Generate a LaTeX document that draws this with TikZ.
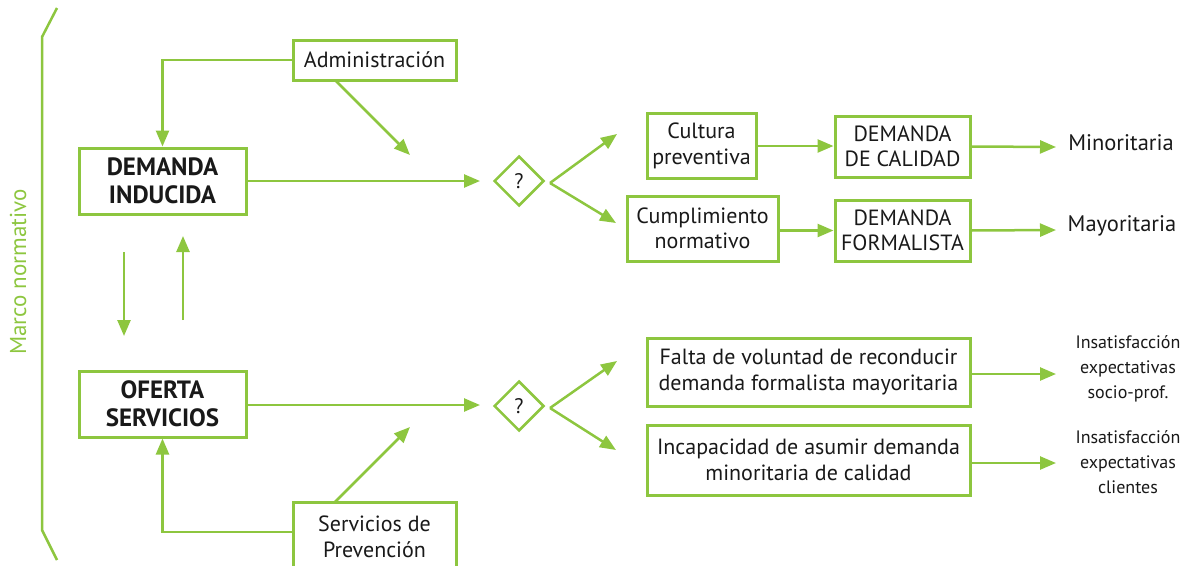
\documentclass[tikz,border=0pt]{standalone}
\usepackage{fontspec}
\setmainfont{PT Sans}
\usetikzlibrary{arrows.meta,shapes.geometric,calc}
\definecolor{gr}{RGB}{141,198,63}
\begin{document}
\begin{tikzpicture}[x=1pt,y=-1pt,
  box/.style={draw=gr, line width=3pt, inner sep=1pt, align=center, text=black!90,
    font=\fontsize{22}{25.5}\selectfont},
  bbox/.style={box, font=\fontsize{25}{28}\selectfont\bfseries},
  lbl/.style={align=center, text=black!90, font=\fontsize{22.5}{24}\selectfont},
  slbl/.style={align=center, text=black!90, font=\fontsize{18}{25}\selectfont},
  arr/.style={draw=gr, line width=2.5pt, -{Triangle[length=16pt,width=13pt]}},
  ln/.style={draw=gr, line width=2.5pt},
  qd/.style={diamond, draw=gr, line width=2.5pt, minimum width=50, minimum height=50, inner sep=0pt,
    text=black!90, font=\fontsize{21}{24}\selectfont}]
\path[use as bounding box] (0,0) rectangle (1188,565);
\clip (0,0) rectangle (1188,565);

% bracket
\coordinate (bt) at (57,8);
\coordinate (bb) at (57,560);
\draw[ln, line join=round] (bt) -- (42,37) -- (42,530) -- (bb);
\node[rotate=90, text=gr, font=\fontsize{23}{24}\selectfont] (mn) at (18,272) {Marco normativo};

% left boxes
\node[box, minimum width=163, minimum height=40] (adm) at (374.5,60) {Administración};
\node[bbox, minimum width=167, minimum height=66] (di) at (162.5,181) {DEMANDA\\INDUCIDA};
\node[bbox, minimum width=167, minimum height=66] (of) at (162.5,404) {OFERTA\\SERVICIOS};
\node[box, minimum width=163, minimum height=70] (sp) at (374.5,537) {Servicios de\\Prevención};

% diamonds
\node[qd] (q1) at (519,181) {?};
\node[qd] (q2) at (519,406) {?};

% upper right
\node[box, minimum width=109, minimum height=65] (cp) at (701.5,146) {Cultura\\preventiva};
\node[box, minimum width=151, minimum height=65] (cn) at (702.5,228.5) {Cumplimiento\\normativo};
\node[box, minimum width=135, minimum height=61] (dc) at (902.5,146.5) {DEMANDA\\DE CALIDAD};
\node[box, minimum width=135, minimum height=61] (df) at (902.5,230.5) {DEMANDA\\FORMALISTA};
\node[lbl] (mi) at (1121,143) {Minoritaria};
\node[lbl] (ma) at (1122,226) {Mayoritaria};

% lower right
\node[box, minimum width=323, minimum height=68] (fv) at (808.5,372) {Falta de voluntad de reconducir\\demanda formalista mayoritaria};
\node[box, minimum width=323, minimum height=70] (ic) at (808.5,460) {Incapacidad de asumir demanda\\minoritaria de calidad};
\node[slbl] (i1) at (1128,369) {Insatisfacción\\expectativas\\socio-prof.};
\node[slbl] (i2) at (1128,462) {Insatisfacción\\expectativas\\clientes};

% coordinates
\coordinate (a1s) at (335,80);
\coordinate (a1e) at (410,155);
\coordinate (a2s) at (335,502);
\coordinate (a2e) at (410,427);
\coordinate (q1in) at (480,181);
\coordinate (q2in) at (480,405);
\coordinate (q1b) at (550,183);
\coordinate (q2b) at (550,408);
\coordinate (u1) at (617,134);
\coordinate (u2) at (616,223);
\coordinate (l1) at (617,361);
\coordinate (l2) at (616,450);
\coordinate (dn1) at (124,252);
\coordinate (dn2) at (124,336);
\coordinate (up1) at (183,320);
\coordinate (up2) at (183,236);
\coordinate (e1) at (1056,147);
\coordinate (e2) at (1056,230);
\coordinate (e3) at (1056,374);
\coordinate (e4) at (1056,463);

% connectors
\draw[arr] (adm.west) -| (di.north);
\draw[arr] (sp.west |- 0,532) -| (of.south);
\draw[arr] (a1s) -- (a1e);
\draw[arr] (a2s) -- (a2e);
\draw[arr] (di.east |- q1in) -- (q1in);
\draw[arr] (of.east |- q2in) -- (q2in);
\draw[arr] (q1b) -- (u1);
\draw[arr] (q1b) -- (u2);
\draw[arr] (q2b) -- (l1);
\draw[arr] (q2b) -- (l2);
\draw[arr] (dn1) -- (dn2);
\draw[arr] (up1) -- (up2);
\draw[arr] (cp.east) -- (dc.west |- cp.east);
\draw[arr] (cn.east |- df.west) -- (df.west);
\draw[arr] (dc.east) -- (e1);
\draw[arr] (df.east) -- (e2);
\draw[arr] (fv.east |- e3) -- (e3);
\draw[arr] (ic.east |- e4) -- (e4);
\end{tikzpicture}
\end{document}
